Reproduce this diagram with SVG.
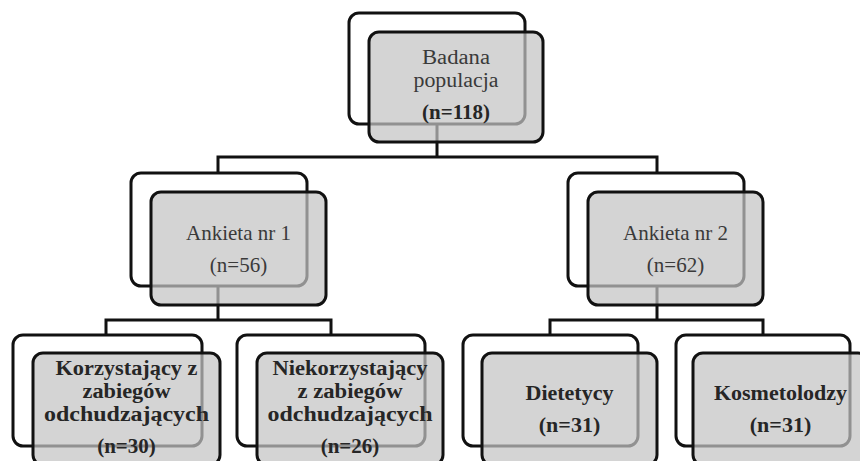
<svg xmlns="http://www.w3.org/2000/svg" width="860" height="461" viewBox="0 0 860 461">
<style>
.bg{fill:#fff}
.back{fill:#fff;stroke:#111;stroke-width:3}
.front{fill:#c4c4c4;fill-opacity:0.72;stroke:#111;stroke-width:3}
.conn{fill:none;stroke:#111;stroke-width:3}
.t{font-family:"Liberation Serif","Times New Roman",serif;font-size:21px;fill:#3a3a3a;text-anchor:middle}
.b{font-family:"Liberation Serif","Times New Roman",serif;font-size:20.5px;font-weight:bold;fill:#262626;text-anchor:middle}
</style>
<rect class="bg" x="0" y="0" width="860" height="461"/>
<g id="connectors">
<path class="conn" d="M437 124V157M218 173V157H657V173"/>
<path class="conn" d="M218 286V320M106 335V320H331V335"/>
<path class="conn" d="M657 286V320M550 335V320H763V335"/>
</g>
<g id="node-root">
<rect class="back" x="349" y="13" width="176" height="111" rx="10"/>
<rect class="front" x="369" y="32" width="174" height="110" rx="10"/>
<text class="t" x="456" y="64" style="font-size:20.5px" textLength="68" lengthAdjust="spacingAndGlyphs">Badana</text>
<text class="t" x="456" y="87" style="font-size:20.5px" textLength="85" lengthAdjust="spacingAndGlyphs">populacja</text>
<text class="b" x="456" y="119" style="font-size:21px">(n=118)</text>
</g>
<g id="node-ankieta1">
<rect class="back" x="131" y="173" width="176" height="113" rx="10"/>
<rect class="front" x="151" y="192" width="175" height="113" rx="10"/>
<text class="t" x="238.5" y="240">Ankieta nr 1</text>
<text class="t" x="238.5" y="272">(n=56)</text>
</g>
<g id="node-ankieta2">
<rect class="back" x="568" y="173" width="176" height="113" rx="10"/>
<rect class="front" x="588" y="192" width="175" height="113" rx="10"/>
<text class="t" x="675.5" y="240">Ankieta nr 2</text>
<text class="t" x="675.5" y="272">(n=62)</text>
</g>
<g id="node-korzystajacy">
<rect class="back" x="13" y="335" width="189" height="111" rx="10"/>
<rect class="front" x="33" y="353" width="187" height="112" rx="10"/>
<text class="b" x="126.5" y="375" textLength="142" lengthAdjust="spacingAndGlyphs">Korzystający z</text>
<text class="b" x="126.5" y="398" textLength="88" lengthAdjust="spacingAndGlyphs">zabiegów</text>
<text class="b" x="126.5" y="421" textLength="165" lengthAdjust="spacingAndGlyphs">odchudzających</text>
<text class="b" x="126.5" y="453" style="font-size:21px">(n=30)</text>
</g>
<g id="node-niekorzystajacy">
<rect class="back" x="237" y="335" width="188" height="111" rx="10"/>
<rect class="front" x="257" y="353" width="186" height="112" rx="10"/>
<text class="b" x="350" y="375" textLength="155" lengthAdjust="spacingAndGlyphs">Niekorzystający</text>
<text class="b" x="350" y="398" textLength="105" lengthAdjust="spacingAndGlyphs">z zabiegów</text>
<text class="b" x="350" y="421" textLength="165" lengthAdjust="spacingAndGlyphs">odchudzających</text>
<text class="b" x="350" y="453" style="font-size:21px">(n=26)</text>
</g>
<g id="node-dietetycy">
<rect class="back" x="463" y="335" width="175" height="111" rx="10"/>
<rect class="front" x="482" y="353" width="175" height="112" rx="10"/>
<text class="b" x="569.5" y="400" style="font-size:22px">Dietetycy</text>
<text class="b" x="569.5" y="432" style="font-size:22px">(n=31)</text>
</g>
<g id="node-kosmetolodzy">
<rect class="back" x="676" y="335" width="174" height="111" rx="10"/>
<rect class="front" x="693" y="353" width="175" height="112" rx="10"/>
<text class="b" x="780.5" y="400" style="font-size:22px">Kosmetolodzy</text>
<text class="b" x="780.5" y="432" style="font-size:22px">(n=31)</text>
</g>
</svg>
